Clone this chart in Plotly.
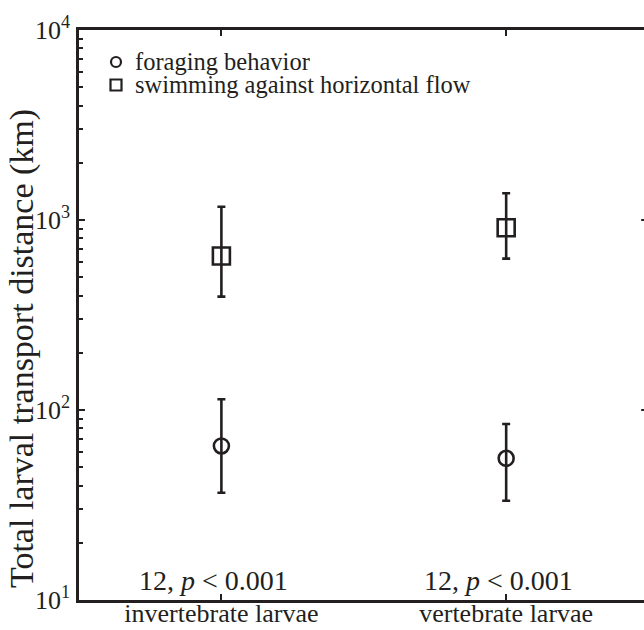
import plotly.graph_objects as go

categories = ["invertebrate larvae", "vertebrate larvae"]
foraging_mean = [64.7, 55.7]
foraging_upper = [114, 84.4]
foraging_lower = [36.7, 33.3]
swimming_mean = [647, 911]
swimming_upper = [1175, 1382]
swimming_lower = [395, 626]
stat_labels = ["12, <i>p</i> < 0.001", "12, <i>p</i> < 0.001"]
legend_labels = ["foraging behavior", "swimming against horizontal flow"]
ytick_vals = [10, 100, 1000, 10000]
ytick_text = ["10<sup>1</sup>", "10<sup>2</sup>", "10<sup>3</sup>", "10<sup>4</sup>"]
yminor_vals = [m * 10 ** e for e in range(1, 4) for m in range(2, 10)]
y_title = "Total larval transport distance (km)"

INK = "#231f20"
FONT = "Liberation Serif"
W, H = 644, 630
ML, MR, MT, MB = 79, 0, 30, 30
PW, PH = W - ML - MR, H - MT - MB

def px_x(px):
    return (px - ML) / PW

def px_y(py):
    return (H - MB - py) / PH

fig = go.Figure()

def add_series(name, mean, upper, lower, symbol, size):
    fig.add_trace(go.Scatter(
        x=categories, y=mean, mode="markers", name=name, showlegend=False,
        marker=dict(symbol=symbol, size=size, color=INK, line=dict(color=INK, width=2.6)),
        error_y=dict(type="data", symmetric=False,
                     array=[u - m for u, m in zip(upper, mean)],
                     arrayminus=[m - l for m, l in zip(mean, lower)],
                     color=INK, thickness=2.6, width=4),
    ))

add_series(legend_labels[0], foraging_mean, foraging_upper, foraging_lower, "circle-open", 15)
add_series(legend_labels[1], swimming_mean, swimming_upper, swimming_lower, "square-open", 17)

# statistics text
for cat, lab in zip(categories, stat_labels):
    fig.add_annotation(x=cat, y=0.004, xref="x", yref="y domain", text=lab,
                       showarrow=False, yanchor="bottom", xshift=-8,
                       font=dict(family=FONT, size=28, color=INK))

# legend (custom, compact)
legend_rows = [62, 85]
key_x = 116
for i, (lab, row) in enumerate(zip(legend_labels, legend_rows)):
    shape_type = "circle" if i == 0 else "rect"
    half = 5 if i == 0 else 5.5
    fig.add_shape(type=shape_type, xref="paper", yref="paper",
                  xsizemode="pixel", ysizemode="pixel",
                  xanchor=px_x(key_x), yanchor=px_y(row),
                  x0=-half, x1=half, y0=-half, y1=half,
                  line=dict(color=INK, width=2.2), fillcolor="rgba(0,0,0,0)")
    fig.add_annotation(x=px_x(133), y=px_y(row), xref="paper", yref="paper",
                       text=lab, showarrow=False, xanchor="left", yanchor="middle",
                       font=dict(family=FONT, size=24.5, color=INK))

# y-axis title
fig.add_annotation(x=px_x(22), y=px_y(349), xref="paper", yref="paper",
                   text=y_title, textangle=-90, showarrow=False,
                   xanchor="center", yanchor="middle",
                   font=dict(family=FONT, size=34, color=INK))

# right-axis tick stubs (axis itself lies just beyond the cropped edge)
for v in ytick_vals[1:3]:
    fig.add_shape(type="line", xref="x domain", yref="y", x0=0.995, x1=1.0, y0=v, y1=v,
                  line=dict(color=INK, width=2))

fig.update_layout(
    width=W, height=H,
    margin=dict(l=ML, r=MR, t=MT, b=MB, autoexpand=False),
    paper_bgcolor="white", plot_bgcolor="white",
    font=dict(family=FONT, size=22, color=INK),
    showlegend=False,
)
fig.update_xaxes(
    type="category", range=[-0.5, 1.484], automargin=False,
    showline=True, linecolor=INK, linewidth=2.5, mirror="ticks",
    ticks="inside", ticklen=6, tickwidth=2, tickcolor=INK,
    showgrid=False, zeroline=False, ticklabelstandoff=-12,
    tickfont=dict(family=FONT, size=26, color=INK),
)
fig.update_yaxes(
    type="log", range=[1, 4], automargin=False,
    tickvals=ytick_vals, ticktext=ytick_text,
    showline=True, linecolor=INK, linewidth=2.5, mirror=False,
    ticks="inside", ticklen=6, tickwidth=2, tickcolor=INK,
    minor=dict(tickvals=yminor_vals, ticks="inside", ticklen=4, tickwidth=1.5,
               tickcolor=INK, showgrid=False),
    showgrid=False, zeroline=False, ticklabelstandoff=1,
    tickfont=dict(family=FONT, size=26, color=INK),
)

fig.write_html("out.html", config={"displayModeBar": False},
               post_script="document.body.style.margin='0';document.body.style.overflow='hidden';")
